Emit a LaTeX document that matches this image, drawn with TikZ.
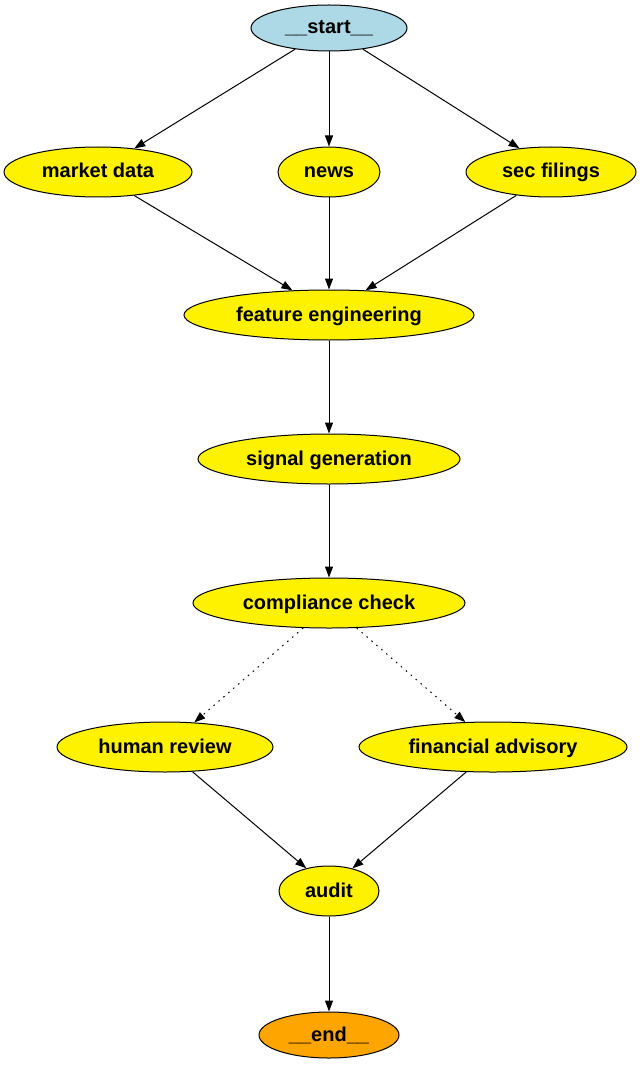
\documentclass[tikz,border=0pt]{standalone}
\usepackage{fontspec}
\setmainfont{Liberation Sans}
\usetikzlibrary{shapes.geometric,arrows.meta}
\definecolor{startblue}{RGB}{173,216,230}
\definecolor{endorange}{RGB}{255,165,0}

\begin{document}
\begin{tikzpicture}[x=1pt,y=-1pt,
    stage/.style={ellipse,draw,fill=yellow,inner sep=0pt,minimum height=50pt,line width=1pt,
      text height=15.5pt,text depth=3.5pt,
      font=\fontsize{20}{22}\selectfont\bfseries},
    flow/.style={-{Triangle[length=11pt,width=8pt]},line width=1pt},
    maybe/.style={flow,dash pattern=on 1.5pt off 5pt}]
    \useasboundingbox (0,0) rectangle (641,1067);
    % nodes, top to bottom
    \node[stage,fill=startblue,minimum width=156pt,minimum height=46pt] (start) at (329,28) {\_\_start\_\_};
    \node[stage,minimum width=188pt] (md) at (98,172) {market data};
    \node[stage,minimum width=102pt] (news) at (329,172) {news};
    \node[stage,minimum width=170pt] (sec) at (551,172) {sec filings};
    \node[stage,minimum width=290pt] (fe) at (329,315) {feature engineering};
    \node[stage,minimum width=262pt] (sg) at (329,459) {signal generation};
    \node[stage,minimum width=272pt] (cc) at (329,603) {compliance check};
    \node[stage,minimum width=216pt] (hr) at (165,747) {human review};
    \node[stage,minimum width=268pt] (fa) at (493,747) {financial advisory};
    \node[stage,minimum width=100pt] (audit) at (329,891) {audit};
    \node[stage,fill=endorange,minimum width=140pt,minimum height=46pt] (end) at (329,1035) {\_\_end\_\_};
    % edges
    \foreach \a/\b in {start.-148/md.33, start.-90/news.90, start.-32/sec.143,
                       md.-33/fe.146, news.-90/fe.90, sec.-146/fe.34,
                       fe.-90/sg.90, sg.-90/cc.90,
                       hr.-42/audit.135, fa.-137/audit.44, audit.-90/end.90}
      \draw[flow] (\a) -- (\b);
    \draw[maybe] (cc.-136) -- (hr.40);
    \draw[maybe] (cc.-42) -- (fa.138);
\end{tikzpicture}
\end{document}
